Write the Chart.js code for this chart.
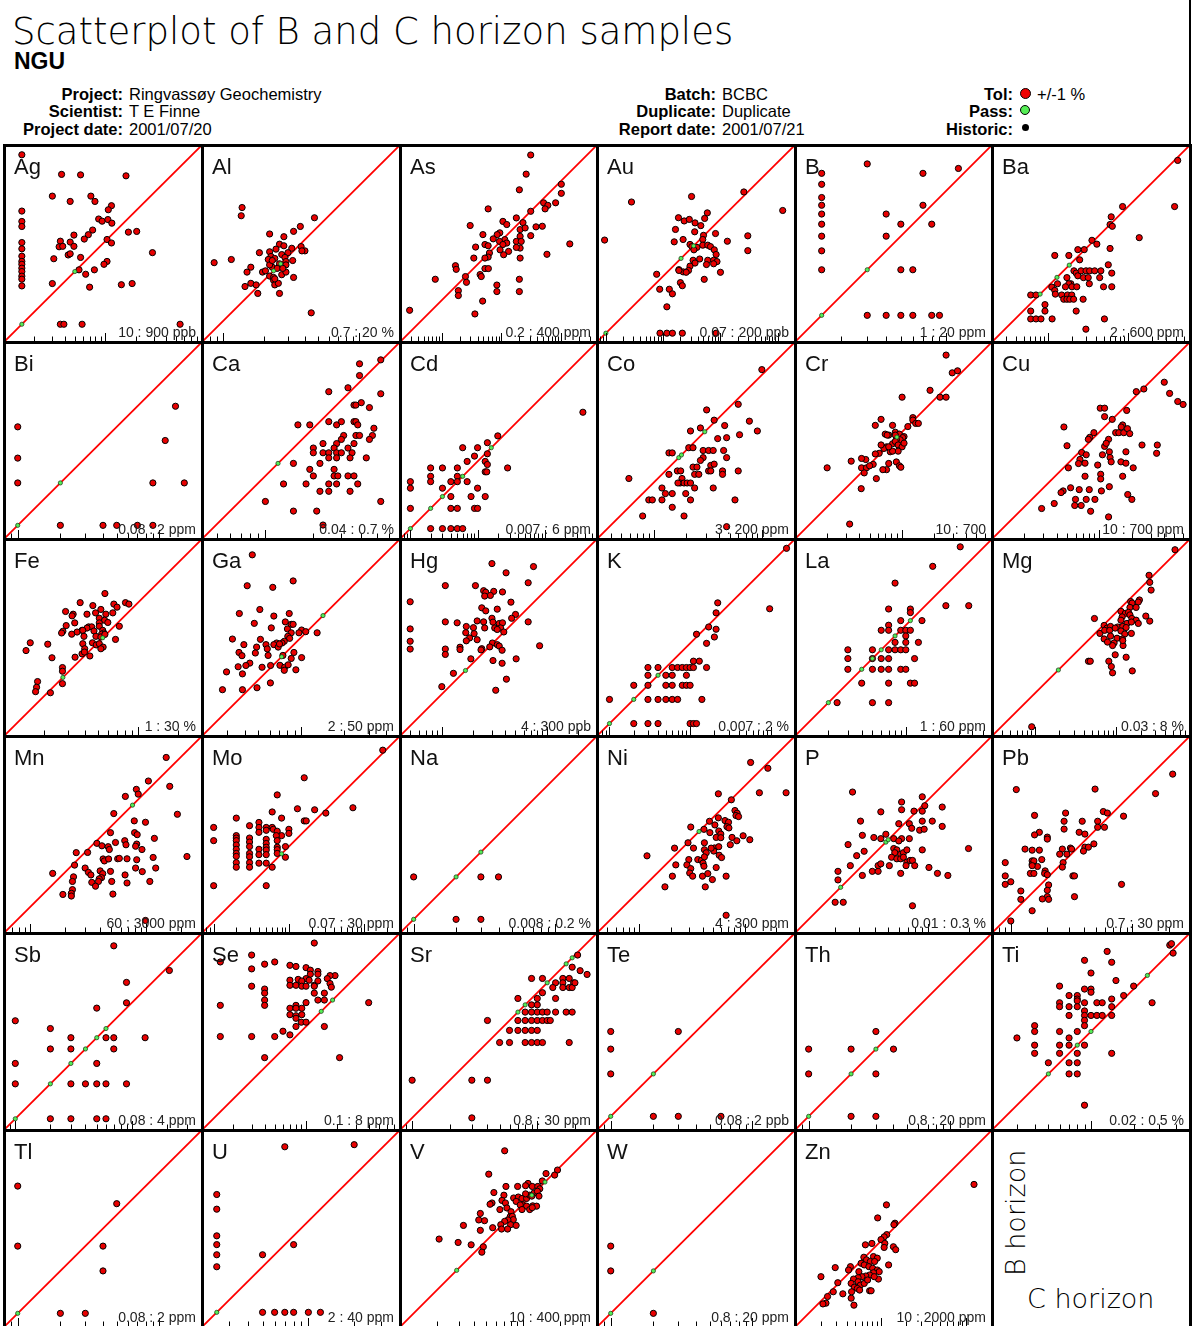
<!DOCTYPE html>
<html>
<head>
<meta charset="utf-8">
<script src="https://cdn.jsdelivr.net/npm/chart.js@4.4.1/dist/chart.umd.min.js"></script>
<style>
  html, body { margin: 0; padding: 0; background: #fff; }
  body { width: 1192px; height: 1326px; overflow: hidden; position: relative;
         font-family: "Liberation Sans", Arial, sans-serif; color: #000; }
  .abs { position: absolute; white-space: nowrap; }
  .thin { font-family: "DejaVu Sans", sans-serif; font-weight: 200; }
  #title { left: 12px; top: 13px; font-size: 37px; line-height: 37px; }
  #org { left: 14px; top: 50px; font-size: 23px; line-height: 23px; font-weight: bold; }
  .lab { font-size: 16.5px; line-height: 16px; font-weight: bold; text-align: right; }
  .val { font-size: 16.5px; line-height: 16px; }
  .dot { position: absolute; border-radius: 50%; box-sizing: border-box; }
  canvas { position: absolute; z-index: 1; }
  .rule { position: absolute; background: #000; z-index: 2; }
  .elname { position: absolute; z-index: 3; font-size: 22px; line-height: 22px; color: #111; }
  .range { position: absolute; z-index: 3; font-size: 14px; line-height: 14px; color: #222; text-align: right; }
</style>
</head>
<body>
<div id="title" class="abs thin">Scatterplot of B and C horizon samples</div>
<div id="org" class="abs">NGU</div>
<div id="header"></div>
<div id="grid"></div>

<script>
// ---- Survey metadata -------------------------------------------------------
const leftLabels  = ['Project:', 'Scientist:', 'Project date:'];
const leftValues  = ['Ringvassøy Geochemistry', 'T E Finne', '2001/07/20'];
const midLabels   = ['Batch:', 'Duplicate:', 'Report date:'];
const midValues   = ['BCBC', 'Duplicate', '2001/07/21'];
const keyLabels   = ['Tol:', 'Pass:', 'Historic:'];
const tolerance   = '+/-1 %';

// ---- Elements and plotting ranges (C horizon on x, B horizon on y) ---------
const elements = ['Ag','Al','As','Au','B','Ba','Bi','Ca','Cd','Co','Cr','Cu','Fe','Ga','Hg','K','La','Mg',
                  'Mn','Mo','Na','Ni','P','Pb','Sb','Se','Sr','Te','Th','Ti','Tl','U','V','W','Zn'];
const lows   = [10, 0.7, 0.2, 0.07, 1, 2, 0.08, 0.04, 0.007, 3, 10, 10, 1, 2, 4, 0.007, 1, 0.03,
                60, 0.07, 0.008, 4, 0.01, 0.7, 0.08, 0.1, 0.8, 0.08, 0.8, 0.02, 0.08, 2, 10, 0.8, 10];
const highs  = [900, 20, 400, 200, 20, 600, 2, 0.7, 6, 200, 700, 700, 30, 50, 300, 2, 60, 8,
                3000, 30, 0.2, 300, 0.3, 30, 4, 8, 30, 2, 20, 0.5, 2, 40, 400, 20, 2000];
const units  = ['ppb','%','ppm','ppb','ppm','ppm','ppm','%','ppm','ppm','','ppm','%','ppm','ppb','%','ppm','%',
                'ppm','ppm','%','ppm','%','ppm','ppm','ppm','ppm','ppb','ppm','%','ppm','ppm','ppm','ppm','ppm'];

// ---- Sample pairs [C horizon, B horizon]; *_pass = duplicates within tolerance
const Ag_pts = [[15,720],[37,460],[57,455],[160,445],[30,280],[72,280],[45,248],[79,248],[15,199],[115,225],[107,205],[86,166],[93,158],[106,164],[116,151],[15,157],[15,140],[75,129],[68,116],[49,115],[169,123],[204,125],[36,100],[45,98],[62,105],[104,104],[115,96],[15,97],[15,84],[35,88],[38,89],[49,89],[15,71],[15,63],[15,59],[15,54],[15,50],[15,45],[15,42],[15,36],[31,67],[43,73],[45,75],[57,69],[292,77],[104,63],[97,59],[78,52],[55,52],[64,47],[30,38],[70,35],[144,37],[184,38],[36,15],[39,15],[59,15],[547,15]];
const Ag_pass = [[15,15],[50,50]];
const Al_pts = [[1.38,6.9],[1.36,6.0],[4.7,5.8],[3.3,4.6],[3.7,5.0],[2.2,4.4],[2.8,4.2],[0.86,2.7],[1.15,2.85],[1.85,3.2],[2.2,3.25],[2.45,3.4],[2.6,3.7],[2.8,3.6],[3.2,3.45],[3.0,3.2],[3.75,3.55],[4.0,3.3],[3.8,3.3],[2.25,3.0],[2.4,2.9],[2.7,3.1],[2.85,2.95],[3.25,2.8],[1.6,2.5],[1.5,2.3],[1.95,2.3],[2.3,2.5],[2.6,2.65],[2.9,2.75],[2.2,2.15],[2.35,2.1],[2.7,2.2],[2.9,2.3],[3.3,2.1],[1.45,1.8],[1.6,1.9],[1.75,1.85],[2.35,2.0],[2.4,1.85],[2.55,1.9],[1.8,1.6],[2.6,1.6],[4.45,1.15],[2.15,2.85],[2.5,2.45],[2.4,2.05],[2.9,2.6],[2.2,2.6],[2.05,2.35],[2.75,2.45],[2.3,2.8]];
const Al_pass = [[2.65,2.65],[2.35,2.35]];
const As_pts = [[31,272],[26,130],[20,71],[101,88],[101,62],[51,43],[81,43],[60,39],[54,34],[31,31],[6.0,34],[17.8,24],[23,20],[10.6,21],[12.3,18.6],[3.0,17.9],[20.6,15.3],[25,16.3],[38,17],[48.5,17.4],[9.4,13.5],[4.9,12.6],[8.5,12.6],[20.6,11.8],[31,12.1],[7.3,10.7],[11.4,10.4],[12.3,9.1],[9.3,9.7],[10.6,8.6],[3.7,7.8],[5.3,8.6],[6.0,8.2],[17.8,9.7],[21.5,9.7],[20.6,7.5],[17.8,7.7],[9.5,7.0],[13.2,6.6],[6.3,6.2],[6.0,5.3],[3.45,5.1],[5.3,5.1],[10.9,5.8],[20.6,5.1],[58,5.9],[140,8.8],[1.7,3.8],[1.75,3.3],[5.3,3.4],[6.05,3.4],[4.4,2.7],[4.6,2.5],[2.5,2.5],[0.78,2.25],[2.6,2.0],[20,2.25],[8.4,1.8],[1.9,1.45],[1.9,1.2],[8.4,1.4],[20,1.4],[4.85,0.97],[3.6,0.59],[0.29,0.68]];
const As_pass = [];
const Au_pts = [[0.28,20],[0.095,4.3],[25.6,30],[122,14.2],[3.13,25],[5.9,12.9],[1.85,10.6],[2.33,9.3],[2.86,9.9],[3.6,8.6],[5.3,10.3],[4.54,7.7],[1.64,6.6],[3.55,6.0],[8.2,5.6],[30,5.1],[30,2.8],[13.2,4.1],[5.06,5.2],[4.91,4.4],[1.56,4.0],[2.23,4.4],[2.94,3.6],[3.18,3.3],[3.89,3.2],[4.91,3.5],[6.0,3.5],[6.7,3.3],[7.8,2.9],[8.4,2.4],[3.44,2.9],[3.33,1.9],[4.34,2.0],[3.6,1.7],[6.0,1.9],[5.7,1.6],[7.6,1.9],[8.7,1.8],[7.6,1.65],[2.94,1.5],[2.77,1.26],[2.23,1.19],[2.52,1.17],[1.88,1.3],[1.88,1.26],[10,1.17],[5.21,0.88],[0.77,1.08],[2.0,0.77],[2.16,0.68],[1.28,0.59],[0.87,0.59],[1.45,0.49],[1.16,0.29],[0.88,0.1],[1.16,0.1],[1.45,0.1],[2.16,0.1],[8.4,0.1]];
const Au_pass = [[0.1,0.1],[2.05,2.05],[3.4,3.4]];
const B_pts = [[1.5,13],[1.5,11],[1.5,9],[1.5,8],[1.5,7],[1.5,6],[1.5,5],[1.5,4],[1.5,3],[3,15],[7,13],[12,14],[7,8],[4,7],[5,6],[8,6],[4,5],[5,3],[6,3],[3,1.5],[4,1.5],[5,1.5],[6,1.5],[8,1.5],[9,1.5]];
const B_pass = [[1.5,1.5],[3,3]];
const Ba_pts = [[421,384],[385,101],[86,101],[139,41],[62,75],[60,60],[64,57],[35.6,38],[41,34],[28.5,29],[23.7,29],[60,30],[12.2,24.5],[18.3,24.5],[25,21.6],[57,18.7],[63,14.7],[21.2,15.7],[22.6,14.7],[23.7,13.6],[26,15.7],[30,15.7],[33.3,15.7],[38.5,15.7],[46,15.7],[27.9,12.9],[32,12.9],[44.5,12.9],[13.2,10.8],[17.3,12.9],[19.4,10.8],[18.3,10.8],[16.6,9.9],[20,9.9],[23,9.9],[33,10.8],[49.7,9.9],[63,9.9],[11.2,9.8],[12.2,8.9],[12.4,8.0],[14.9,7.8],[17.6,7.8],[19.9,7.8],[15.8,6.9],[17.3,6.9],[18.8,6.9],[21,6.9],[27.6,6.9],[6.1,7.8],[7.1,7.8],[9.2,5.9],[6.1,4.9],[9.2,4.9],[6.1,3.9],[7.1,3.9],[8.2,3.9],[11.3,3.9],[22.6,4.9],[51,3.9],[29.9,2.9]];
const Ba_pass = [[8,8],[13,13],[18.5,18.5]];
const Bi_pts = [[0.1,0.5],[0.1,0.3],[0.1,0.2],[0.2,0.1],[0.4,0.1],[0.5,0.1],[0.7,0.1],[0.9,0.1],[1.3,0.7],[1.1,0.4],[0.9,0.2],[1.5,0.2]];
const Bi_pass = [[0.1,0.1],[0.2,0.2]];
const Ca_pts = [[0.39,0.51],[0.53,0.54],[0.39,0.43],[0.25,0.34],[0.33,0.36],[0.53,0.33],[0.36,0.28],[0.37,0.28],[0.40,0.29],[0.45,0.27],[0.16,0.21],[0.19,0.21],[0.25,0.22],[0.28,0.21],[0.30,0.22],[0.36,0.22],[0.37,0.22],[0.38,0.21],[0.48,0.20],[0.31,0.18],[0.37,0.18],[0.39,0.18],[0.47,0.18],[0.45,0.17],[0.30,0.17],[0.28,0.16],[0.23,0.16],[0.36,0.16],[0.20,0.15],[0.33,0.15],[0.27,0.15],[0.20,0.14],[0.23,0.14],[0.25,0.14],[0.28,0.14],[0.30,0.14],[0.35,0.14],[0.25,0.13],[0.28,0.13],[0.34,0.13],[0.43,0.13],[0.15,0.12],[0.22,0.12],[0.27,0.11],[0.19,0.11],[0.20,0.10],[0.27,0.10],[0.285,0.10],[0.33,0.10],[0.36,0.10],[0.13,0.089],[0.18,0.089],[0.25,0.089],[0.28,0.089],[0.38,0.089],[0.22,0.08],[0.25,0.08],[0.34,0.08],[0.10,0.069],[0.53,0.069],[0.15,0.06],[0.21,0.06],[0.23,0.049]];
const Ca_pass = [[0.12,0.12]];
const Cd_pts = [[3.7,0.54],[0.2,0.24],[0.14,0.19],[0.1,0.16],[0.06,0.16],[0.14,0.13],[0.09,0.12],[0.07,0.1],[0.13,0.1],[0.14,0.09],[0.13,0.07],[0.137,0.07],[0.28,0.08],[0.01,0.05],[0.01,0.04],[0.02,0.08],[0.02,0.06],[0.02,0.05],[0.03,0.08],[0.05,0.08],[0.05,0.06],[0.04,0.05],[0.05,0.05],[0.07,0.05],[0.03,0.04],[0.1,0.04],[0.04,0.03],[0.08,0.03],[0.13,0.03],[0.01,0.02],[0.04,0.02],[0.05,0.02],[0.09,0.02],[0.1,0.02],[0.02,0.01],[0.03,0.01],[0.04,0.01],[0.05,0.01],[0.06,0.01]];
const Cd_pass = [[0.01,0.01],[0.02,0.02],[0.03,0.03],[0.06,0.06],[0.16,0.16]];
const Co_pts = [[99,111],[60,53],[30.7,47],[36,37.8],[26.9,32],[21.8,30],[45,33.7],[76,37],[90,30],[61.7,27.7],[46.9,26],[38.8,25.5],[21,21],[23,21],[13.8,18.8],[14.8,18.8],[28.5,19.8],[32,19.8],[35.3,19.8],[44,19.8],[46.9,17],[23,13.9],[25,13.9],[28.5,17],[26.9,16],[33.5,14.4],[36,14.8],[32,12.8],[33.5,12.8],[43,12.8],[43,11.9],[60,12.8],[13.8,11.9],[16.5,12.8],[17.7,12.8],[23.8,11.9],[26,11.9],[18.2,10.9],[17.5,9.9],[19,9.9],[20.3,9.9],[21.8,9.9],[23.8,8.9],[16.7,9.9],[11.9,8.9],[12.8,7.9],[14.8,7.9],[19.7,7.9],[35.3,8.9],[9.0,6.9],[9.7,6.9],[11.9,6.9],[21.8,6.9],[56,6.9],[14.8,5.9],[7.9,4.9],[19,4.9],[5.9,10.9],[46.9,3.9]];
const Co_pass = [[17,17],[18,18],[29.5,29.5]];
const Cr_pts = [[260,528],[297,360],[333,376],[184,247],[228,213],[260,213],[100.7,213],[127,137],[127,130],[135,121],[143,121],[114,113],[56.5,116],[82,116],[64,132],[75.5,94],[70,96],[87,100],[95,96],[105,91],[102,89],[96.6,85],[89,85],[82,78],[72,73],[68,70.5],[78,65.6],[61.4,63.5],[56.5,62.6],[46,55.5],[42,56.8],[33.6,53.6],[20,46.4],[42,46.4],[46.7,46.4],[54,50],[50,48.5],[75.5,51],[89,52.7],[95,48.5],[98,47],[72,44.6],[66.5,44.6],[44.5,41.6],[57.8,36.8],[41.7,29.6],[32.5,13.8],[87,82],[92.5,76],[100.7,73],[92.5,66.5],[105,79],[82,66.5],[64,76],[75.5,73],[87,94],[73,94]];
const Cr_pass = [[90,90]];
const Cu_pts = [[403,294],[260,254],[221,240],[452,231],[538,194],[604,182],[102,168],[112,168],[180,160],[112,140],[132,132],[46.8,112],[89,99],[81.5,89.6],[79,85.8],[122,85.8],[142,99],[152,99],[169,99],[165,117],[160,112],[183,108],[192,97],[250,75.9],[347,75.9],[342,63.5],[50,74.7],[112,73.7],[116,78.7],[68.5,64.6],[75.5,61.5],[107,61.5],[124,65.6],[126,58],[177,65.6],[66,55.6],[64,50.9],[51.5,46.4],[73.6,51.3],[96.6,49.3],[129,52.8],[159,52.8],[177,51.3],[207,46.4],[73.6,38.7],[103,40.4],[103,36.5],[165,38.7],[54,30.2],[65,29],[80.6,29],[124,30.9],[104.6,28.2],[46,28.2],[44,27.2],[184,26.1],[201,23.5],[60,23.5],[75.5,23.5],[91,23.5],[38,21.5],[59,20.6],[67.8,20.6],[83,18.2],[29,19.3],[122,16.1]];
const Cu_pass = [];
const Fe_pts = [[5.66,11.7],[3.7,10],[4.6,9.5],[6.6,9.75],[6.97,9.25],[8.06,10],[8.55,9.75],[2.88,8.58],[3.28,8.19],[3.22,7.96],[4.16,8.19],[4.82,8.38],[5.28,8.89],[5.75,8.19],[6.48,8.38],[5.14,7.64],[5.63,7.38],[3.37,7.05],[2.91,6.73],[5.14,7.05],[5.95,7.1],[4.28,6.58],[4.51,6.58],[4.16,6.45],[3.82,6.2],[3.51,6.02],[2.75,6.1],[2.69,5.92],[3.2,5.8],[3.87,6.2],[4.69,6.13],[5.14,6.65],[5.45,6.2],[5.55,5.92],[5.35,5.8],[7.25,6.65],[4.85,5.59],[5.28,5.53],[5.66,5.78],[6.79,5.3],[3.95,5.59],[1.57,5.0],[2.12,4.88],[1.46,4.37],[3.87,4.92],[4.57,5.0],[4.88,4.82],[5.14,4.92],[5.49,4.64],[5.28,4.51],[4.0,4.51],[3.82,4.13],[3.98,4.26],[4.37,3.98],[3.39,3.9],[2.28,3.86],[2.73,3.26],[2.73,3.06],[2.73,2.47],[1.78,2.56],[1.75,2.32],[1.72,2.15],[2.22,2.11]];
const Fe_pass = [[2.75,2.75],[5.45,5.45]];
const Ga_pts = [[4.53,38.6],[4.17,23.3],[6.32,22.7],[8.8,25.2],[5.12,15.8],[3.67,14.8],[6.43,14.2],[8.26,14.8],[4.68,12.6],[7.75,12.9],[8.53,12.4],[8.8,12.4],[6.17,11.7],[8.02,11.5],[10.1,11.3],[10.8,11],[8.53,10.8],[9.67,10.8],[13,10.8],[8.07,10.2],[5.17,9.7],[3.28,9.75],[8.31,9.86],[7.62,9.4],[6.73,9.14],[6.43,8.9],[7.35,9.14],[4.86,8.55],[5.66,8.9],[5.78,8.3],[6.9,8.55],[7.05,9.0],[3.95,8.9],[3.65,7.83],[3.83,7.43],[4.76,7.76],[5.86,7.46],[7.45,7.46],[8.53,7.1],[8.91,7.83],[10.1,7.2],[4.35,6.58],[4.08,6.33],[3.6,6.2],[2.98,5.7],[3.86,5.52],[5.31,6.15],[6.1,6.33],[7.1,6.35],[7.66,6.15],[7.62,5.85],[8.12,6.4],[9.2,5.9],[2.79,4.26],[3.86,4.26],[4.89,4.4],[6.08,4.76]];
const Ga_pass = [[14.3,14.3],[7.3,7.3]];
const Hg_pts = [[30,175],[74.6,164],[40.9,143],[10.8,108],[20.9,108],[66.4,115],[25,96.6],[26.2,93.3],[31.2,95.2],[37.8,94],[29,87.1],[25.6,85.9],[5,75.8],[24,66.4],[26.2,62.1],[33.7,64.5],[45.5,75.2],[50.3,57.4],[46.2,52.8],[30,52.8],[21.7,49.8],[25,48.8],[30.7,48.5],[35.2,47.1],[37.8,47.8],[10.8,48.8],[14,47.8],[17.1,44.1],[20,43],[25.6,42.7],[31.9,42.7],[36.3,42.7],[33.7,41.3],[38.9,39.1],[66.4,48.8],[5,41.8],[5,31.9],[5,26.9],[16.9,38.5],[20.3,37.7],[18.4,34.3],[17.1,32.2],[21.7,33],[30.3,30.7],[33.7,29.6],[28.6,28.2],[35.2,28.7],[10.8,26.9],[10.8,23.9],[14.9,28],[14.9,26.6],[24,27.1],[23.6,26.4],[37.5,26.2],[85.3,28.9],[18.9,21.7],[30.7,20.9],[37.5,19.7],[51,21.7],[12.9,15.8],[41.2,13.9],[10,11.8],[32.6,10.9]];
const Hg_pass = [[16.8,16.8]];
const K_pts = [[1.57,1.53],[0.97,0.27],[0.22,0.32],[0.21,0.24],[0.17,0.16],[0.21,0.15],[0.12,0.13],[0.2,0.12],[0.16,0.1],[0.16,0.05],[0.11,0.06],[0.13,0.06],[0.03,0.05],[0.04,0.05],[0.06,0.05],[0.07,0.05],[0.08,0.05],[0.09,0.05],[0.1,0.05],[0.11,0.05],[0.03,0.04],[0.05,0.04],[0.06,0.04],[0.09,0.04],[0.02,0.03],[0.03,0.03],[0.05,0.03],[0.06,0.03],[0.08,0.03],[0.09,0.03],[0.1,0.03],[0.01,0.02],[0.03,0.02],[0.04,0.02],[0.05,0.02],[0.06,0.02],[0.07,0.02],[0.14,0.02],[0.02,0.01],[0.03,0.01],[0.04,0.01],[0.1,0.01],[0.11,0.01],[0.12,0.01]];
const K_pass = [[0.01,0.01],[0.02,0.02],[0.04,0.04]];
const La_pts = [[31,51],[17.5,34],[8,24],[23,15],[37,15],[7,14],[11,14],[11,13],[14,11],[9,11],[7,10],[6,9],[7,9],[9,9],[10,9],[11,9],[10,8],[13,7],[8,7],[10,7],[5,6],[7,6],[8,6],[9,6],[10,6],[3,6],[3,5],[5,5],[6,5],[7,5],[12,5],[3,4],[5,4],[6,4],[7,4],[9,4],[10,4],[4,3],[7,3],[11,3],[12,3],[2.4,2],[5,2],[7,2]];
const La_pass = [[2,2],[4,4],[5,5],[6,6],[8,8],[11,11]];
const Mg_pts = [[5.24,5.9],[2.52,2.86],[2.57,2.34],[2.67,1.88],[1.92,1.42],[1.5,1.36],[1.56,1.3],[1.86,1.34],[1.47,1.15],[1.75,1.15],[2.3,0.9],[2.57,0.78],[1.14,1.03],[1.29,0.97],[1.18,0.88],[1.41,1.0],[1.47,0.93],[1.55,0.84],[1.75,0.8],[1.86,0.73],[1.35,0.73],[1.53,0.76],[1.14,0.8],[0.54,0.84],[0.71,0.69],[0.77,0.64],[0.85,0.67],[1.04,0.66],[1.2,0.67],[1.32,0.65],[1.53,0.55],[0.63,0.55],[0.72,0.6],[0.83,0.6],[0.97,0.64],[1.14,0.59],[1.27,0.54],[0.71,0.47],[0.85,0.51],[1.02,0.48],[1.19,0.47],[0.94,0.42],[1.21,0.39],[0.9,0.39],[0.78,0.43],[1.2,0.45],[0.97,0.3],[1.32,0.28],[0.81,0.25],[0.456,0.25],[0.48,0.25],[0.87,0.215],[0.9,0.18],[1.57,0.19],[0.092,0.039]];
const Mg_pass = [[0.195,0.195]];
const Mn_pts = [[1479,1959],[1040,1227],[1586,1104],[820,1040],[851,946],[660,904],[1845,634],[525,643],[787,556],[982,541],[492,440],[792,440],[834,423],[1171,393],[652,375],[543,362],[376,356],[415,339],[470,333],[481,315],[668,346],[826,351],[808,336],[916,315],[313,297],[250,296],[425,261],[436,251],[474,261],[567,262],[586,264],[682,262],[826,257],[1143,269],[2228,274],[242,231],[298,218],[318,200],[334,190],[401,206],[422,195],[492,204],[412,180],[394,176],[388,167],[340,164],[366,152],[504,167],[656,190],[682,162],[808,218],[922,203],[1070,167],[1202,218],[157,196],[237,183],[232,167],[232,142],[227,132],[227,125],[192,129],[516,130],[982,77]];
const Mn_pass = [[760,760]];
const Mo_pts = [[17.7,19.4],[1.6,8.3],[0.7,4.9],[1.3,3.2],[2.2,3.1],[3.1,2.8],[7.1,3.3],[0.6,2.9],[0.8,2.4],[0.2,2.4],[1.6,2.2],[1.7,2.2],[0.1,1.8],[0.1,1.2],[0.1,0.3],[0.3,1.9],[0.4,2.1],[0.4,1.8],[0.5,1.8],[0.6,1.8],[0.62,1.7],[0.4,1.55],[0.5,1.65],[0.7,1.6],[0.8,1.4],[0.68,1.4],[1.0,1.7],[1.0,1.5],[0.2,1.4],[0.2,1.3],[0.2,1.2],[0.2,1.05],[0.2,0.92],[0.2,0.81],[0.2,0.74],[0.2,0.61],[0.2,0.53],[0.3,1.3],[0.3,1.15],[0.3,1.0],[0.3,0.81],[0.3,0.73],[0.3,0.61],[0.3,0.53],[0.4,0.92],[0.4,0.78],[0.4,0.6],[0.5,1.25],[0.5,1.1],[0.5,0.98],[0.5,0.9],[0.5,0.78],[0.5,0.6],[0.7,1.2],[0.7,0.98],[0.7,0.91],[0.7,0.81],[0.9,1.0],[0.9,0.72],[0.6,0.53],[0.5,0.3]];
const Mo_pass = [[0.8,0.8]];
const Na_pts = [[0.01,0.02],[0.03,0.02],[0.04,0.02],[0.02,0.01],[0.03,0.01]];
const Na_pass = [[0.01,0.01],[0.02,0.02],[0.03,0.03]];
const Ni_pts = [[114,168],[166,148],[56.4,84.5],[74.9,74.1],[138,86.5],[247,86.5],[81,58.6],[85,55.2],[82.8,52.5],[87.6,51.3],[46.5,46.3],[56.4,49.9],[65.2,47],[70.4,45.3],[68,41.1],[52.3,42.7],[71,40],[41.2,38.8],[56.9,37.4],[59.5,35],[30.9,40.8],[76,32.5],[96.8,33.7],[112,30.9],[84.4,30.2],[53.8,32.5],[46.9,36.1],[59.5,32.3],[41.6,28.9],[51.8,25.8],[56.9,26.5],[73.2,27.7],[29.1,28.9],[32.8,25.7],[21.7,25.7],[11.9,21.7],[41.6,24.8],[43.3,23.2],[29.6,20],[36,20],[39.1,19.7],[41.6,21.2],[57.4,22],[60.5,20.9],[51,24.1],[48.2,25.7],[28.4,17.8],[30.9,16.4],[40.4,18.5],[41.2,17.3],[53.8,16.8],[22.3,17.8],[30.2,14.9],[32.2,13.9],[39.9,13.9],[44.8,14.7],[49.5,12.9],[66.8,13.9],[20.7,13.9],[17.6,11],[42.4,11],[66.8,5.9]];
const Ni_pass = [[37,37]];
const P_pts = [[0.027,0.114],[0.09,0.105],[0.063,0.096],[0.063,0.084],[0.078,0.082],[0.09,0.082],[0.094,0.09],[0.127,0.088],[0.044,0.081],[0.031,0.069],[0.06,0.066],[0.072,0.066],[0.075,0.061],[0.09,0.069],[0.107,0.069],[0.127,0.063],[0.086,0.059],[0.093,0.06],[0.032,0.054],[0.039,0.052],[0.044,0.051],[0.048,0.055],[0.055,0.051],[0.063,0.051],[0.072,0.051],[0.06,0.049],[0.025,0.046],[0.033,0.041],[0.055,0.043],[0.058,0.042],[0.056,0.04],[0.062,0.039],[0.065,0.04],[0.069,0.042],[0.09,0.042],[0.053,0.037],[0.058,0.036],[0.062,0.036],[0.065,0.037],[0.069,0.034],[0.073,0.035],[0.076,0.035],[0.029,0.038],[0.042,0.032],[0.044,0.033],[0.051,0.032],[0.068,0.032],[0.079,0.032],[0.062,0.028],[0.026,0.032],[0.021,0.029],[0.021,0.025],[0.032,0.027],[0.038,0.029],[0.042,0.029],[0.101,0.031],[0.117,0.028],[0.14,0.027],[0.2,0.043],[0.02,0.017],[0.023,0.017],[0.076,0.016]];
const P_pass = [[0.022,0.022],[0.048,0.048],[0.05,0.05]];
const Pb_pts = [[21.6,14.5],[15.6,10],[1.11,10.8],[4.95,10.9],[2.83,6.9],[5.79,7.1],[6.25,6.9],[8.5,6.5],[1.57,6.6],[2.75,5.9],[3.88,5.9],[5.2,5.9],[2.75,5.08],[5.2,5.26],[5.92,5.26],[3.66,4.78],[4.08,4.62],[1.72,4.78],[1.57,4.55],[2.0,4.36],[2.0,4.2],[4.84,3.83],[2.66,3.47],[3.1,3.54],[3.17,3.47],[4.08,3.6],[4.36,3.6],[3.97,3.34],[1.31,3.47],[1.5,3.4],[1.72,3.4],[2.53,3.15],[2.9,3.15],[1.5,2.77],[1.5,2.6],[1.55,2.77],[1.8,2.84],[1.66,2.49],[1.5,2.53],[2.7,2.68],[2.66,2.46],[1.92,2.29],[1.9,2.18],[1.45,2.18],[1.55,2.18],[2.0,2.13],[3.25,2.08],[3.35,2.08],[0.9,2.68],[0.9,2.08],[0.9,1.77],[1.0,1.86],[2.05,1.75],[1.21,1.56],[2.0,1.58],[2.0,1.4],[1.82,1.34],[2.05,1.33],[3.35,1.4],[1.21,1.33],[1.5,1.07],[1.0,0.88],[8.18,1.77]];
const Pb_pass = [];
const Sb_pts = [[0.7,3.1],[2.1,1.9],[0.9,1.5],[0.9,1.0],[0.5,0.9],[0.1,0.7],[0.2,0.6],[0.3,0.5],[0.6,0.5],[0.7,0.5],[1.3,0.5],[0.2,0.4],[0.3,0.4],[0.7,0.4],[0.1,0.3],[0.5,0.3],[0.1,0.2],[0.3,0.2],[0.4,0.2],[0.5,0.2],[0.6,0.2],[0.9,0.2],[0.2,0.1],[0.3,0.1],[0.5,0.1],[0.6,0.1]];
const Sb_pass = [[0.1,0.1],[0.2,0.2],[0.3,0.3],[0.4,0.4],[0.5,0.5],[0.6,0.6]];
const Se_pts = [[1.2,6.4],[0.3,4.9],[0.4,4.0],[0.5,4.2],[0.15,4.2],[0.3,3.6],[0.7,3.9],[0.8,3.8],[1.0,3.7],[1.1,3.5],[1.3,3.4],[1.1,3.2],[1.3,3.2],[1.9,3.1],[1.7,3.1],[1.6,2.9],[1.0,2.9],[1.07,2.8],[0.7,2.8],[0.84,2.85],[0.91,2.75],[1.3,2.75],[1.7,2.6],[1.75,2.4],[1.2,2.5],[0.7,2.5],[0.8,2.5],[0.91,2.45],[1.0,2.45],[1.2,2.45],[1.5,2.1],[1.2,2.1],[1.3,1.8],[1.5,1.8],[1.0,1.7],[0.3,2.45],[0.4,2.3],[0.4,2.1],[0.4,1.8],[0.4,1.6],[0.15,1.6],[0.7,1.5],[0.8,1.6],[0.91,1.5],[0.8,1.5],[0.7,1.3],[0.8,1.27],[0.91,1.3],[0.8,1.2],[0.9,1.1],[1.0,1.1],[0.8,1.0],[0.7,0.83],[0.6,0.9],[0.5,0.8],[0.3,0.8],[0.15,0.8],[1.5,1.0],[4.0,1.7],[0.4,0.5],[2.1,0.5]];
const Se_pass = [[1.8,1.8],[1.4,1.4]];
const Sr_pts = [[21,20],[19,16],[22,15],[25,14],[9,13],[11,13],[16,13],[18,13],[14,12],[16,12],[19.5,12],[13.3,11],[16,11],[18,11],[19,11],[20,12],[7,9],[10,9],[11,10],[14,9],[9,8],[10,8],[9,7],[10,7],[11,7],[12,7],[14,7],[17,7],[19,7],[8,7],[7,6],[8,6],[9,6],[10,6],[11,6],[12,6],[12.7,6],[6,5],[7,5],[8,5],[9,5],[10,5],[5,4],[6,4],[8,4],[9,4],[10,4],[11,4],[18,4],[4,6],[3,2],[4,2],[1,2],[3,1]];
const Sr_pass = [[7,7],[8,8],[12,12],[17,17],[19,19]];
const Te_pts = [[0.1,0.4],[0.1,0.3],[0.1,0.2],[0.3,0.4],[0.2,0.1],[0.3,0.1],[0.6,0.1]];
const Te_pass = [[0.1,0.1],[0.2,0.2]];
const Th_pts = [[1,3],[1,2],[2,3],[3,4],[4,3],[3,2],[2,1],[3,1]];
const Th_pass = [[1,1],[2,2],[3,3]];
const Ti_pts = [[0.36,0.41],[0.37,0.42],[0.38,0.36],[0.13,0.37],[0.09,0.32],[0.14,0.31],[0.1,0.26],[0.15,0.23],[0.2,0.21],[0.06,0.21],[0.09,0.2],[0.1,0.2],[0.1,0.19],[0.17,0.18],[0.07,0.18],[0.08,0.18],[0.08,0.17],[0.08,0.165],[0.06,0.16],[0.06,0.15],[0.07,0.15],[0.08,0.15],[0.09,0.16],[0.11,0.16],[0.12,0.16],[0.14,0.17],[0.27,0.16],[0.14,0.15],[0.09,0.14],[0.09,0.13],[0.07,0.13],[0.1,0.13],[0.11,0.13],[0.12,0.13],[0.14,0.13],[0.09,0.12],[0.09,0.11],[0.04,0.11],[0.04,0.1],[0.06,0.1],[0.08,0.1],[0.03,0.09],[0.07,0.09],[0.07,0.08],[0.06,0.08],[0.04,0.08],[0.09,0.08],[0.04,0.07],[0.06,0.07],[0.08,0.07],[0.14,0.07],[0.05,0.06],[0.07,0.06],[0.08,0.06],[0.07,0.05],[0.08,0.05],[0.09,0.03]];
const Ti_pass = [[0.05,0.05],[0.08,0.08],[0.1,0.1],[0.25,0.25]];
const Tl_pts = [[0.1,0.8],[0.1,0.3],[0.5,0.6],[0.4,0.3],[0.4,0.2],[0.2,0.1],[0.3,0.1]];
const Tl_pass = [[0.1,0.1]];
const U_pts = [[7,31],[20,32],[2.5,15],[2.5,12],[2.5,8],[2.5,7],[2.5,6],[2.5,5],[5,6],[8,7],[5,2.5],[6,2.5],[7,2.5],[8,2.5],[10,2.5],[12,2.5]];
const U_pass = [[2.5,2.5]];
const V_pts = [[71,271],[52.7,175],[191,189],[154,177],[181,172],[143.6,154],[110,147],[119,139],[132,139],[105,141],[137,133],[72.7,139],[90.5,139],[58,124],[70,118],[84,112],[91.6,114],[98.2,111],[107,111],[113.5,118],[123,123],[131,127],[135,116],[118,116],[105,121],[67.5,107],[56,102],[54,99.6],[72,102],[88,105],[99,99],[95,98.4],[107,96.1],[120,96.7],[129,96.1],[113.5,90.2],[98.2,90.2],[119,93.5],[64.9,90.2],[74,92.9],[80,86.6],[78.7,78.9],[82,79.4],[83.5,74.7],[75.5,74.2],[71,72.3],[66,67.9],[79.3,67.9],[88,67],[45,83.8],[43.7,74.2],[48.7,73.2],[45,61.1],[56.7,64.2],[67,62.6],[75,62.6],[32.8,67],[20.8,51.9],[29.7,48.7],[37.9,46.6],[47.6,44.9],[46.3,40.6]];
const V_pass = [[28.9,28.9],[151,151],[118,118]];
const W_pts = [[1,3],[1,2],[2,1]];
const W_pass = [[1,1],[2,2]];
const Zn_pts = [[1233,463],[117,267],[92.4,188],[147,163],[143,157],[118,120],[110,113],[101,105],[79.1,94.6],[66.4,91.2],[112,94.6],[141,86.6],[150,80],[110,85],[124,53.1],[82.5,66.5],[91.4,63.7],[63.7,65.3],[68.5,60.9],[75.9,58.2],[85.1,58.2],[59.2,55.5],[64.4,53.1],[72.9,50.7],[80.8,48.5],[91.4,46.3],[96.3,44.3],[82.5,43],[74.4,40.5],[67.1,39.4],[60.5,38.7],[54.6,37.7],[48.3,36.3],[54.6,33.8],[58,30.8],[64.4,32.3],[70.5,35.4],[94.3,36.3],[84.2,38.7],[44.4,50.7],[42.2,46.3],[55.7,44.3],[31.6,32.9],[29.5,49.4],[20.1,38.7],[45.3,32.3],[49.3,29.2],[53.5,28.2],[56.9,27],[74.4,26.5],[77.5,26.5],[28,25.8],[36.2,24.4],[45.8,25.8],[24,22.7],[23,19],[21.2,18.6],[45.3,21.7],[48.8,18]];
const Zn_pass = [];

const samples = { Ag: Ag_pts, Al: Al_pts, As: As_pts, Au: Au_pts, B: B_pts, Ba: Ba_pts, Bi: Bi_pts, Ca: Ca_pts,
  Cd: Cd_pts, Co: Co_pts, Cr: Cr_pts, Cu: Cu_pts, Fe: Fe_pts, Ga: Ga_pts, Hg: Hg_pts, K: K_pts, La: La_pts,
  Mg: Mg_pts, Mn: Mn_pts, Mo: Mo_pts, Na: Na_pts, Ni: Ni_pts, P: P_pts, Pb: Pb_pts, Sb: Sb_pts, Se: Se_pts,
  Sr: Sr_pts, Te: Te_pts, Th: Th_pts, Ti: Ti_pts, Tl: Tl_pts, U: U_pts, V: V_pts, W: W_pts, Zn: Zn_pts };
const passes = { Ag: Ag_pass, Al: Al_pass, As: As_pass, Au: Au_pass, B: B_pass, Ba: Ba_pass, Bi: Bi_pass,
  Ca: Ca_pass, Cd: Cd_pass, Co: Co_pass, Cr: Cr_pass, Cu: Cu_pass, Fe: Fe_pass, Ga: Ga_pass, Hg: Hg_pass,
  K: K_pass, La: La_pass, Mg: Mg_pass, Mn: Mn_pass, Mo: Mo_pass, Na: Na_pass, Ni: Ni_pass, P: P_pass,
  Pb: Pb_pass, Sb: Sb_pass, Se: Se_pass, Sr: Sr_pass, Te: Te_pass, Th: Th_pass, Ti: Ti_pass, Tl: Tl_pass,
  U: U_pass, V: V_pass, W: W_pass, Zn: Zn_pass };

// ---- Header block ----------------------------------------------------------
const header = document.getElementById('header');
function addText(cls, text, style) {
  const d = document.createElement('div');
  d.className = 'abs ' + cls;
  d.textContent = text;
  Object.assign(d.style, style);
  header.appendChild(d);
  return d;
}
const rowTops = [85.5, 102.5, 120.5];
rowTops.forEach((t, i) => {
  addText('lab', leftLabels[i], { left: '0px', width: '123px', top: t + 'px' });
  addText('val', leftValues[i], { left: '129px', top: t + 'px' });
  addText('lab', midLabels[i],  { left: '560px', width: '156px', top: t + 'px' });
  addText('val', midValues[i],  { left: '722px', top: t + 'px' });
  addText('lab', keyLabels[i],  { left: '900px', width: '113px', top: t + 'px' });
});
addText('val', tolerance, { left: '1037px', top: rowTops[0] + 'px' });
function keyDot(cx, cy, d, fill, stroke) {
  const e = document.createElement('div');
  e.className = 'dot';
  Object.assign(e.style, { left: (cx - d / 2) + 'px', top: (cy - d / 2) + 'px', width: d + 'px', height: d + 'px',
    background: fill, border: stroke ? '1px solid ' + stroke : 'none' });
  header.appendChild(e);
}
keyDot(1025, 93, 11, '#ee0000', '#000');
keyDot(1025, 110, 10, '#55ee55', '#000');
keyDot(1025, 127, 7, '#000', null);

// ---- Panel grid ------------------------------------------------------------
const colEdges = [4, 202, 400, 597, 795, 992, 1190];
const rowEdges = [145, 342, 539, 736, 933, 1130, 1327];
const grid = document.getElementById('grid');

// small upward log ticks along the bottom edge of each panel
const logTicks = {
  id: 'logTicks',
  afterDraw(chart) {
    const xs = chart.scales.x, ctx = chart.ctx, bottom = chart.chartArea.bottom;
    const lo = xs.min, hi = xs.max;
    ctx.save();
    ctx.strokeStyle = '#000';
    ctx.lineWidth = 1;
    for (let d = Math.floor(Math.log10(lo)) - 1; d <= Math.ceil(Math.log10(hi)); d++) {
      for (let k = 1; k <= 9; k++) {
        const v = k * Math.pow(10, d);
        if (v < lo * 0.999 || v > hi * 1.001) continue;
        const x = Math.round(xs.getPixelForValue(v)) + 0.5;
        ctx.beginPath();
        ctx.moveTo(x, bottom);
        ctx.lineTo(x, bottom - (k === 1 ? 9 : 5.5));
        ctx.stroke();
      }
    }
    ctx.restore();
  }
};

elements.forEach((el, i) => {
  const c = i % 6, r = Math.floor(i / 6);
  const left = colEdges[c], top = rowEdges[r];
  const w = colEdges[c + 1] - left, h = rowEdges[r + 1] - top;
  const lo = lows[i], hi = highs[i];
  const cv = document.createElement('canvas');
  cv.width = w; cv.height = h;
  Object.assign(cv.style, { left: left + 'px', top: top + 'px', width: w + 'px', height: h + 'px' });
  grid.appendChild(cv);

  new Chart(cv, {
    type: 'scatter',
    data: {
      datasets: [
        { type: 'line', data: [{ x: lo, y: lo }, { x: hi, y: hi }], borderColor: '#ff0000', borderWidth: 1.8,
          pointRadius: 0, order: 3 },
        { data: samples[el].map(([cx, by]) => ({ x: cx, y: by })), backgroundColor: '#e80000',
          borderColor: '#000', borderWidth: 1, pointRadius: 3.1, order: 2 },
        { data: passes[el].map(([cx, by]) => ({ x: cx, y: by })), backgroundColor: '#55ee55',
          borderColor: '#224422', borderWidth: 0.8, pointRadius: 2.1, order: 1 }
      ]
    },
    options: {
      responsive: false, animation: false, devicePixelRatio: 1, events: [],
      layout: { padding: 0, autoPadding: false },
      plugins: { legend: { display: false }, tooltip: { enabled: false } },
      scales: {
        x: { type: 'logarithmic', min: lo, max: hi, bounds: 'data', display: false },
        y: { type: 'logarithmic', min: lo, max: hi, bounds: 'data', display: false }
      }
    },
    plugins: [logTicks]
  });

  const name = document.createElement('div');
  name.className = 'elname';
  name.textContent = el;
  Object.assign(name.style, { left: (left + 10) + 'px', top: (top + 10.5) + 'px' });
  grid.appendChild(name);

  const rng = document.createElement('div');
  rng.className = 'range';
  rng.textContent = lo + ' : ' + hi + (units[i] ? ' ' + units[i] : '');
  Object.assign(rng.style, { right: (1192 - colEdges[c + 1] + 6) + 'px', top: (rowEdges[r + 1] - 17) + 'px' });
  grid.appendChild(rng);
});

// panel frame lines
colEdges.forEach(x => {
  const d = document.createElement('div');
  d.className = 'rule';
  Object.assign(d.style, { left: (x - 1) + 'px', top: (rowEdges[0] - 1) + 'px', width: '3px', height: (1326 - rowEdges[0] + 2) + 'px' });
  grid.appendChild(d);
});
rowEdges.slice(0, 6).forEach(y => {
  const d = document.createElement('div');
  d.className = 'rule';
  Object.assign(d.style, { left: (colEdges[0] - 1) + 'px', top: (y - 1) + 'px', width: (colEdges[6] - colEdges[0] + 3) + 'px', height: '3px' });
  grid.appendChild(d);
});
// outer frame of the header
const frameR = document.createElement('div');
frameR.className = 'rule';
Object.assign(frameR.style, { left: '1189px', top: '0px', width: '2px', height: '146px' });
grid.appendChild(frameR);

// axis key in the spare cell
const yKey = document.createElement('div');
yKey.className = 'abs thin';
yKey.textContent = 'B horizon';
Object.assign(yKey.style, { left: '1002px', top: '1276px', fontSize: '27px', lineHeight: '27px',
  transform: 'rotate(-90deg)', transformOrigin: '0 0', zIndex: 3 });
grid.appendChild(yKey);
const xKey = document.createElement('div');
xKey.className = 'abs thin';
xKey.textContent = 'C horizon';
Object.assign(xKey.style, { left: '1027px', top: '1285px', fontSize: '27px', lineHeight: '27px', zIndex: 3 });
grid.appendChild(xKey);
</script>
</body>
</html>
